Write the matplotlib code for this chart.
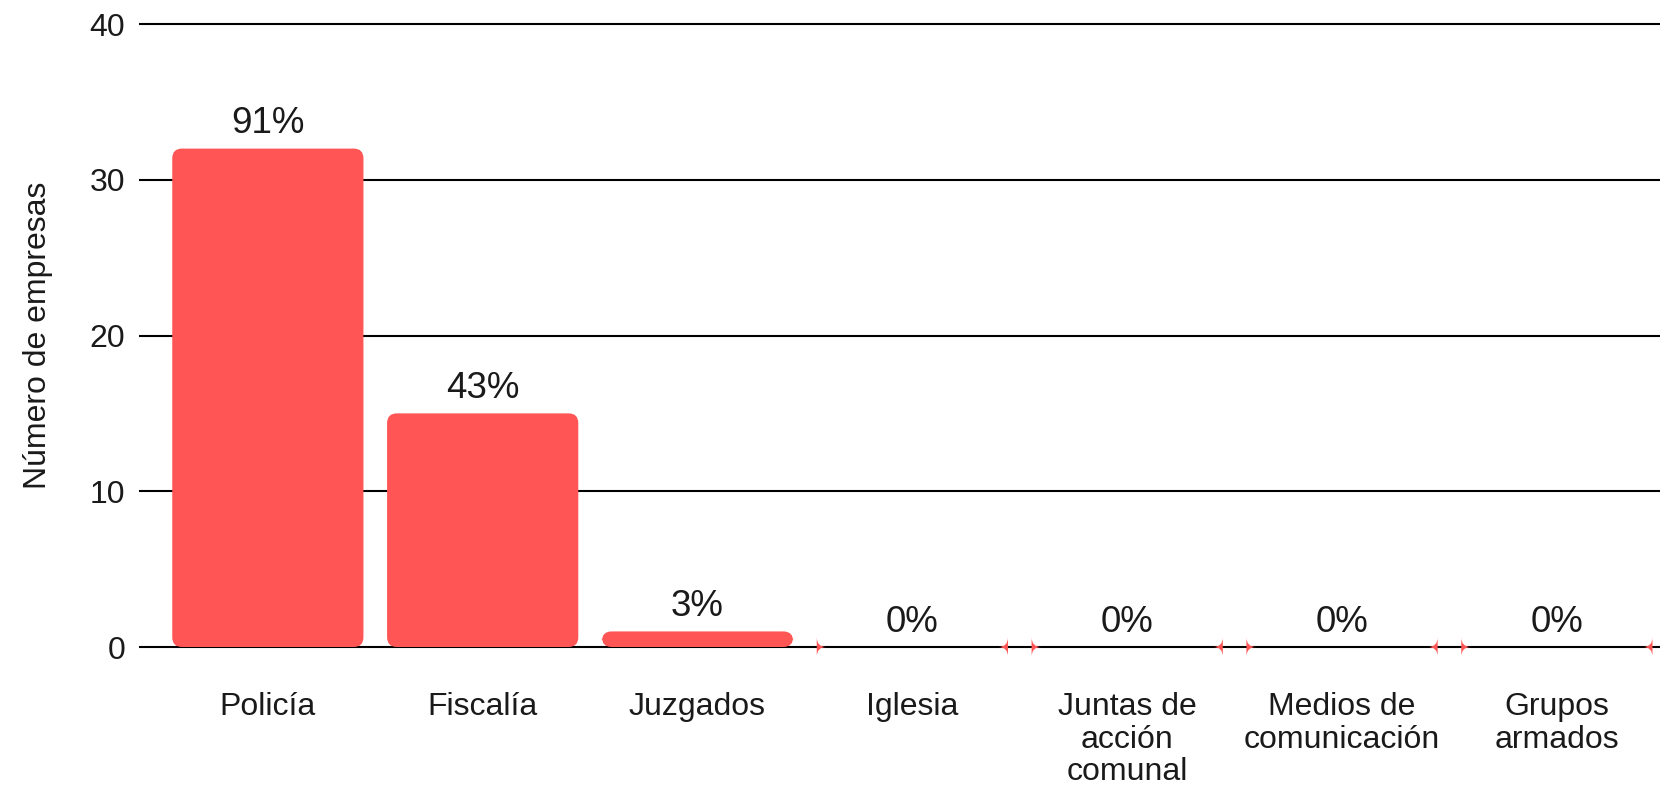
import matplotlib
matplotlib.use('Agg')
import matplotlib.pyplot as plt
from matplotlib.patches import FancyBboxPatch

plt.rcParams['font.family'] = ['Liberation Sans', 'DejaVu Sans']

categorias = ['Policía', 'Fiscalía', 'Juzgados', 'Iglesia',
              'Juntas de\nacción\ncomunal', 'Medios de\ncomunicación',
              'Grupos\narmados']
empresas = [32, 15, 1, 0, 0, 0, 0]
porcentajes = [91, 43, 3, 0, 0, 0, 0]

color_barra = '#FF5555'
color_texto = '#1a1a1a'

fig = plt.figure(figsize=(16.6, 7.91), dpi=100)
ax = fig.add_axes([0.0837, 0.1722, 0.9163, 0.8073])

x = list(range(len(categorias)))
barras = ax.bar(x, empresas, width=0.89, color=color_barra, zorder=2)

# rounded corners: swap each rectangle for a fancy box of the same size
for rect in barras:
    rect.set_visible(False)
    caja = FancyBboxPatch((rect.get_x(), rect.get_y()), rect.get_width(), rect.get_height(),
                          boxstyle='round,pad=0,rounding_size=0.045',
                          mutation_aspect=14, facecolor=color_barra,
                          edgecolor='none', zorder=2)
    ax.add_patch(caja)

for xi, val, pct in zip(x, empresas, porcentajes):
    ax.annotate(f'{pct}%', (xi, val), xytext=(0, 11), textcoords='offset points',
                ha='center', va='baseline', fontsize=26.5, color=color_texto)

ax.set_xlim(-0.6, 6.48)
ax.set_ylim(-0.5, 40.5)
ax.set_yticks([0, 10, 20, 30, 40])
ax.set_xticks(x, categorias)
for lbl in ax.get_xticklabels():
    lbl.set_linespacing(1.1)
ax.yaxis.grid(True, color='black', linewidth=1.5)
ax.set_axisbelow(True)

for s in ax.spines.values():
    s.set_visible(False)
ax.tick_params(axis='both', length=0, labelsize=23, labelcolor=color_texto)
ax.tick_params(axis='x', pad=27)
ax.tick_params(axis='y', pad=10)
ax.set_ylabel('Número de empresas', fontsize=23, color=color_texto, labelpad=26)

plt.savefig('out.png', dpi=100)
